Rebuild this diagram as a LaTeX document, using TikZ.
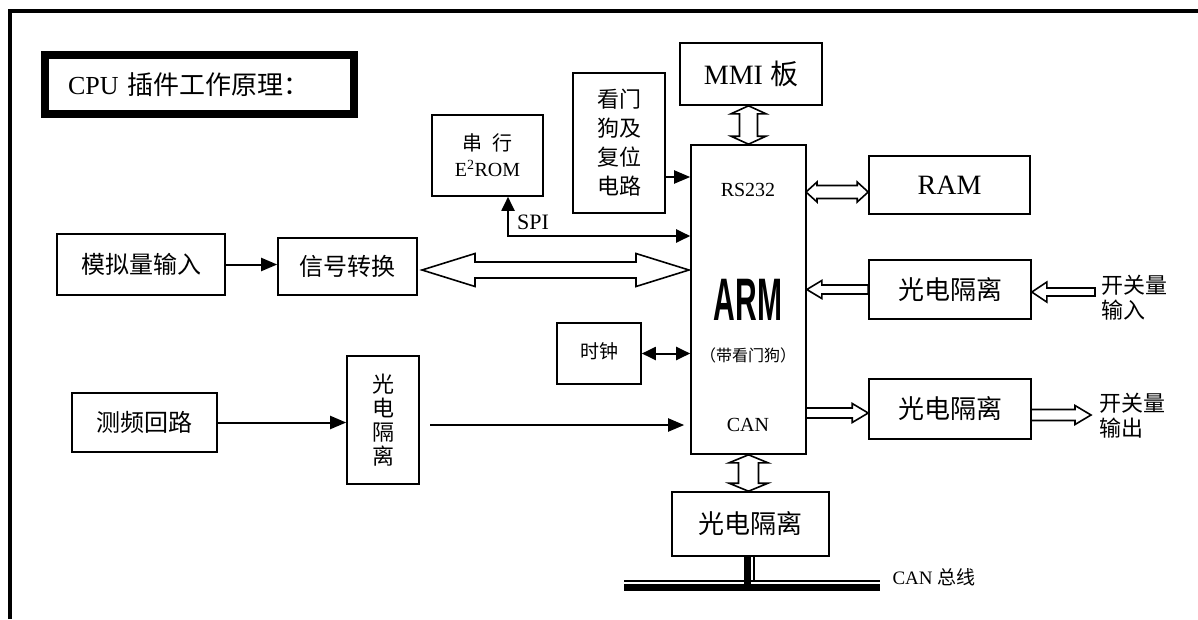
\documentclass[tikz,border=0pt]{standalone}
\usepackage{fontspec}
\usepackage{graphicx}
\setmainfont{Liberation Serif}
\newfontfamily\cjk{Noto Sans CJK SC}
\newfontfamily\armfont{Liberation Sans}
\usetikzlibrary{positioning,arrows.meta,calc}

\tikzset{
  box/.style={draw, line width=1.6pt, inner sep=0pt, align=center},
  arr/.style={line width=2pt, -{Triangle[length=16pt, width=13pt]}},
  dbl/.style={line width=2pt, {Triangle[length=14pt, width=13pt]}-{Triangle[length=14pt, width=13pt]}},
  hollow/.style={draw, line width=1.6pt, line join=miter},
}

% hollow block arrows: tips #1,#2 / head length #3, head half width #4, shaft half width #5
\newcommand{\blockdbl}[5]{%
  \draw[hollow] (#1)
    -- ($(#1)!#3!(#2)!#4!90:(#2)$) -- ($(#1)!#3!(#2)!#5!90:(#2)$)
    -- ($(#2)!#3!(#1)!#5!-90:(#1)$) -- ($(#2)!#3!(#1)!#4!-90:(#1)$)
    -- (#2)
    -- ($(#2)!#3!(#1)!#4!90:(#1)$) -- ($(#2)!#3!(#1)!#5!90:(#1)$)
    -- ($(#1)!#3!(#2)!#5!-90:(#2)$) -- ($(#1)!#3!(#2)!#4!-90:(#2)$)
    -- cycle;}
% tail #1, tip #2
\newcommand{\blocksgl}[5]{%
  \draw[hollow] (#2)
    -- ($(#2)!#3!(#1)!#4!90:(#1)$) -- ($(#2)!#3!(#1)!#5!90:(#1)$)
    -- ($(#1)!#5!-90:(#2)$) -- ($(#1)!#5!90:(#2)$)
    -- ($(#2)!#3!(#1)!#5!-90:(#1)$) -- ($(#2)!#3!(#1)!#4!-90:(#1)$)
    -- cycle;}

\begin{document}
\begin{tikzpicture}[x=1pt, y=-1pt]
        \useasboundingbox (0,0) rectangle (1198,619);
        \draw[line width=4pt] (10,619) -- (10,11) -- (1198,11);

        \node[box, line width=8pt, minimum width=309pt, minimum height=59pt, text width=263pt, align=left, font=\fontsize{26}{30}\selectfont] (title) at (199.5,84.5) {CPU {\cjk 插件工作原理：}};

        % ARM and its neighbours
        \node[box, minimum width=115pt, minimum height=309pt] (arm) at (748.5,299.5) {};
        \node[font=\fontsize{20}{22}\selectfont] (rs) at (748,190) {RS232};
        \node[font=\fontsize{60}{60}\selectfont\armfont\bfseries] (armname) at (748,300) {\scalebox{0.5}[1]{ARM}};
        \node[font=\fontsize{16}{18}\selectfont\cjk] (armsub) at (748,355) {（带看门狗）};
        \node[font=\fontsize{20}{22}\selectfont] (can) at (748,425) {CAN};

        \node[box, minimum width=142pt, minimum height=62pt, font=\fontsize{28}{30}\selectfont] (mmi) at (751,74) {MMI {\cjk 板}};
        \node[box, minimum width=161pt, minimum height=58pt, font=\fontsize{28}{30}\selectfont] (ram) at (949.5,185) {RAM};
        \node[box, minimum width=111pt, minimum height=81pt, font=\fontsize{20}{26}\selectfont] (rom) at (487.5,155.5) {{\cjk 串\enspace 行}\\E\textsuperscript{2}ROM};
        \node[box, minimum width=92pt, minimum height=140pt, font=\fontsize{22}{29}\selectfont\cjk] (wdog) at (619,143) {看门\\狗及\\复位\\电路};
        \node[box, minimum width=84pt, minimum height=61pt, font=\fontsize{19}{21}\selectfont\cjk] (clock) at (599,353.5) {\raisebox{6pt}{时钟}};
        \node[font=\fontsize{22}{24}\selectfont] (spi) at (533,222) {SPI};

        % inputs on the left
        \node[box, minimum width=168pt, minimum height=61pt, font=\fontsize{24}{26}\selectfont\cjk] (ain) at (141,264.5) {模拟量输入};
        \node[box, minimum width=139pt, minimum height=57pt, font=\fontsize{24}{26}\selectfont\cjk] (conv) at (347.5,266.5) {信号转换};
        \node[box, minimum width=145pt, minimum height=59pt, font=\fontsize{24}{26}\selectfont\cjk] (freq) at (144.5,422.5) {测频回路};
        \node[box, minimum width=72pt, minimum height=128pt, font=\fontsize{22}{24}\selectfont\cjk] (vopto) at (383,420) {光\\电\\隔\\离};

        % isolation on the right and below
        \node[box, minimum width=162pt, minimum height=59pt, font=\fontsize{26}{28}\selectfont\cjk] (optoin) at (950,289.5) {光电隔离};
        \node[box, minimum width=162pt, minimum height=60pt, font=\fontsize{26}{28}\selectfont\cjk] (optoout) at (950,409) {光电隔离};
        \node[box, minimum width=157pt, minimum height=64pt, font=\fontsize{26}{28}\selectfont\cjk] (optocan) at (750.5,524) {光电隔离};
        \node[anchor=west, align=left, font=\fontsize{22}{25}\selectfont\cjk] (swin) at (1098,297.5) {开关量\\输入};
        \node[anchor=west, align=left, font=\fontsize{22}{25}\selectfont\cjk] (swout) at (1096,415.5) {开关量\\输出};
        \node[anchor=west, font=\fontsize{19}{21}\selectfont] (busname) at (889,577) {CAN {\cjk 总线}};

        % solid arrows
        \coordinate (wdogout) at (665,177);
        \draw[arr] (wdogout) -- (wdogout -| arm.west);
        \coordinate (spibend) at (508,236);
        \draw[dbl] (spibend |- rom.south) -- (spibend) -- (spibend -| arm.west);
        \draw[arr] (ain.east) -- (ain.east -| conv.west);
        \draw[arr] (freq.east) -- (freq.east -| vopto.west);
        \coordinate (fout) at (430,425);
        \draw[arr, shorten >=6pt] (fout) -- (fout -| arm.west);
        \draw[dbl] (clock.east) -- (clock.east -| arm.west);

        % hollow arrows
        \blockdbl{arm.north |- mmi.south}{arm.north}{8pt}{17.5pt}{9pt}
        \coordinate (ramio) at (806,192);
        \blockdbl{ramio}{ramio -| ram.west}{11pt}{10pt}{6.5pt}
        \coordinate (busL) at (422,270);
        \coordinate (busR) at (689,270);
        \blockdbl{busL}{busR}{53pt}{16.5pt}{8pt}
        \blockdbl{arm.south}{arm.south |- optocan.north}{8pt}{19.5pt}{10pt}
        \blocksgl{optoin.west}{optoin.west -| arm.east}{15pt}{9pt}{4.5pt}
        \coordinate (swtail) at (1095,292);
        \blocksgl{swtail}{swtail -| optoin.east}{15pt}{10pt}{4pt}
        \coordinate (armout) at (806,413);
        \blocksgl{armout}{armout -| optoout.west}{16pt}{9.5pt}{5pt}
        \coordinate (outtail) at (1031,415);
        \coordinate (outtip) at (1091,415);
        \blocksgl{outtail}{outtip}{16pt}{9.5pt}{5.5pt}

        % CAN bus
        \draw[line width=7pt] (747.5,556) -- (747.5,591);
        \draw[line width=2pt] (753.5,556) -- (753.5,580.5);
        \draw[line width=2pt] (624,580.5) -- (880,580.5);
        \draw[line width=7pt] (624,587.5) -- (880,587.5);
    \end{tikzpicture}
\end{document}
